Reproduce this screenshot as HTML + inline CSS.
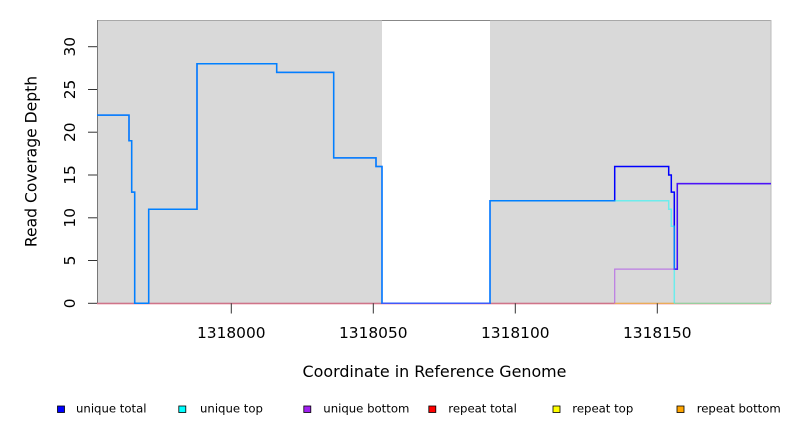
<!DOCTYPE html>
<html>
<head>
<meta charset="utf-8">
<style>
html,body{margin:0;padding:0;background:#fff;}
svg{display:block;}
text{font-family:"DejaVu Sans","Liberation Sans",sans-serif;fill:#000;}
</style>
</head>
<body>
<svg width="792" height="432" viewBox="0 0 792 432" xmlns="http://www.w3.org/2000/svg">
  <!-- plot background -->
  <rect x="97" y="20" width="674" height="283.3" fill="#d9d9d9"/>
  <rect x="382" y="20" width="108" height="283.3" fill="#ffffff"/>
  <line x1="97" y1="20.5" x2="771" y2="20.5" stroke="#a8a8a8" stroke-width="1"/>
  <line x1="382" y1="20.5" x2="490" y2="20.5" stroke="#888" stroke-width="1"/>
  <line x1="771" y1="20" x2="771" y2="303" stroke="#bbbbbb" stroke-width="1"/>
  <line x1="97.5" y1="20" x2="97.5" y2="303" stroke="#777" stroke-width="1"/>

  <!-- bottom zero lines (repeat series) -->
  <line x1="97" y1="303.3" x2="382" y2="303.3" stroke="#c8607a" stroke-width="1.2"/>
  <line x1="382" y1="303.3" x2="490" y2="303.3" stroke="#8a7cf0" stroke-width="1.2"/>
  <line x1="490" y1="303.3" x2="614.7" y2="303.3" stroke="#c8607a" stroke-width="1.2"/>
  <line x1="614.7" y1="303.3" x2="674.3" y2="303.3" stroke="#e8a040" stroke-width="1.2"/>
  <line x1="674.3" y1="303.3" x2="771" y2="303.3" stroke="#88c890" stroke-width="1.2"/>
  <line x1="97" y1="304.4" x2="771" y2="304.4" stroke="#f4c8d0" stroke-width="0.8"/>

  <!-- unique total (blue) -->
  <path d="M97,115.1 H129 V140.8 H131.7 V192.1 H134.7 V303.3 H148.7 V209.2 H197 V63.8 H276.7 V72.4 H333.7 V157.9 H376 V166.5 H382 V303.3 H490 V200.7 H614.7 V166.5 H668.7 V175 H671.3 V192.1 H674.3 V269.1 H677.3 V183.6 H771"
        fill="none" stroke="#0000ff" stroke-width="1.5"/>
  <!-- unique top (cyan) -->
  <path d="M97,115.1 H129 V140.8 H131.7 V192.1 H134.7 V303.3 H148.7 V209.2 H197 V63.8 H276.7 V72.4 H333.7 V157.9 H376 V166.5 H382 V303.3 H490 V200.7 H668.7 V209.2 H671.3 V226.3 H674.3 V303.3"
        fill="none" stroke="#00ffff" stroke-opacity="0.5" stroke-width="1.5"/>
  <!-- unique bottom (purple) -->
  <path d="M382,303.3 H490 M614.7,303.3 V269.1 H677.3 V183.6 H771"
        fill="none" stroke="#a020f0" stroke-opacity="0.5" stroke-width="1.2"/>

  <!-- y axis ticks -->
  <g stroke="#333" stroke-width="1">
    <line x1="88" y1="303.3" x2="97" y2="303.3"/>
    <line x1="88" y1="260.5" x2="97" y2="260.5"/>
    <line x1="88" y1="217.8" x2="97" y2="217.8"/>
    <line x1="88" y1="175" x2="97" y2="175"/>
    <line x1="88" y1="132.2" x2="97" y2="132.2"/>
    <line x1="88" y1="89.5" x2="97" y2="89.5"/>
    <line x1="88" y1="46.7" x2="97" y2="46.7"/>
  </g>
  <g font-size="15.4" text-anchor="middle">
    <text transform="translate(75,303.3) rotate(-90)">0</text>
    <text transform="translate(75,260.5) rotate(-90)">5</text>
    <text transform="translate(75,217.8) rotate(-90)">10</text>
    <text transform="translate(75,175) rotate(-90)">15</text>
    <text transform="translate(75,132.2) rotate(-90)">20</text>
    <text transform="translate(75,89.5) rotate(-90)">25</text>
    <text transform="translate(75,46.7) rotate(-90)">30</text>
  </g>

  <!-- x axis ticks -->
  <g stroke="#333" stroke-width="1">
    <line x1="231.3" y1="303.3" x2="231.3" y2="313.5"/>
    <line x1="373.3" y1="303.3" x2="373.3" y2="313.5"/>
    <line x1="515.3" y1="303.3" x2="515.3" y2="313.5"/>
    <line x1="657.3" y1="303.3" x2="657.3" y2="313.5"/>
  </g>
  <g font-size="15.4" text-anchor="middle">
    <text x="231.3" y="338">1318000</text>
    <text x="373.3" y="338">1318050</text>
    <text x="515.3" y="338">1318100</text>
    <text x="657.3" y="338">1318150</text>
  </g>

  <!-- axis titles -->
  <text x="434.5" y="377" font-size="15.9" text-anchor="middle">Coordinate in Reference Genome</text>
  <text transform="translate(36.5,161.5) rotate(-90)" font-size="15.6" text-anchor="middle">Read Coverage Depth</text>

  <!-- legend -->
  <g stroke="#000" stroke-width="0.8">
    <rect x="57.5" y="406" width="7" height="6.5" fill="#0000ff"/>
    <rect x="178.8" y="406" width="7" height="6.5" fill="#00ffff"/>
    <rect x="303.8" y="406" width="7" height="6.5" fill="#a020f0"/>
    <rect x="428.8" y="406" width="7" height="6.5" fill="#ff0000"/>
    <rect x="553" y="406" width="7" height="6.5" fill="#ffff00"/>
    <rect x="677" y="406" width="7" height="6.5" fill="#ffa500"/>
  </g>
  <g font-size="11.7">
    <text x="76" y="412.5">unique total</text>
    <text x="200" y="412.5">unique top</text>
    <text x="323.3" y="412.5">unique bottom</text>
    <text x="448.3" y="412.5">repeat total</text>
    <text x="572.3" y="412.5">repeat top</text>
    <text x="696.7" y="412.5">repeat bottom</text>
  </g>
</svg>
</body>
</html>
